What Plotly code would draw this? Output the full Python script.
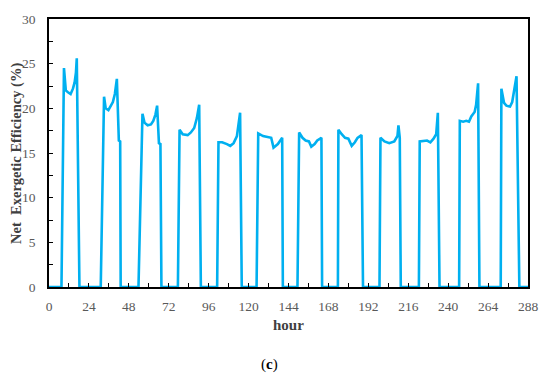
import plotly.graph_objects as go

# Hours (x) and net exergetic efficiency (%) for each of the 12 days
hours_by_day = [
    [7.5, 9.0, 10.1, 11.4, 13.0, 14.4, 15.4, 16.2, 16.7, 18.3],
    [31.1, 33.1, 34.1, 35.7, 37.1, 38.4, 39.6, 40.8, 42.0, 42.8, 43.1],
    [53.8, 56.2, 57.4, 59.3, 61.3, 62.7, 64.0, 65.0, 66.1, 67.0, 67.6],
    [77.5, 78.5, 80.4, 83.4, 85.3, 87.3, 88.9, 90.3, 91.3],
    [101.1, 101.9, 104.1, 107.0, 109.0, 111.0, 113.0, 114.9, 115.9],
    [124.8, 125.8, 128.7, 130.7, 133.6, 135.0, 137.6, 140.2, 140.6],
    [149.4, 150.4, 152.4, 154.3, 156.3, 157.7, 159.7, 161.3, 163.8, 164.2],
    [173.7, 174.0, 176.0, 178.0, 180.0, 182.0, 183.9, 185.5, 187.9, 188.8],
    [198.7, 199.3, 201.7, 204.6, 207.6, 209.5, 210.1, 210.9, 211.5],
    [222.4, 222.9, 225.3, 227.3, 229.3, 231.2, 232.8, 233.8, 234.8],
    [246.6, 247.0, 249.0, 250.9, 252.5, 253.9, 255.9, 256.8, 258.0, 258.8],
    [271.6, 272.0, 273.6, 275.0, 277.2, 278.5, 279.9, 281.1, 282.8],
]
eff_by_day = [
    [0, 24.5, 22.0, 21.8, 21.6, 22.2, 22.9, 24.0, 25.6, 0],
    [0, 21.3, 20.0, 19.8, 20.2, 20.7, 21.6, 23.3, 16.4, 16.3, 0],
    [0, 19.4, 18.4, 18.1, 18.2, 18.6, 19.3, 20.3, 16.1, 16.0, 0],
    [0, 17.6, 17.1, 17.0, 17.3, 17.8, 18.9, 20.4, 0],
    [0, 16.2, 16.2, 16.0, 15.8, 16.1, 16.9, 19.5, 0],
    [0, 17.2, 16.9, 16.8, 16.7, 15.6, 16.0, 16.7, 0],
    [0, 17.3, 16.7, 16.4, 16.3, 15.7, 16.0, 16.4, 16.7, 0],
    [0, 17.6, 17.1, 16.7, 16.6, 15.8, 16.2, 16.7, 17.0, 0],
    [0, 16.7, 16.3, 16.1, 16.3, 16.9, 18.1, 16.7, 0],
    [0, 16.3, 16.4, 16.4, 16.2, 16.6, 17.1, 19.5, 0],
    [0, 18.6, 18.5, 18.6, 18.5, 19.1, 19.6, 20.4, 22.8, 0],
    [0, 22.2, 20.6, 20.3, 20.2, 20.7, 22.2, 23.6, 0],
]
x_ticks = list(range(0, 289, 24))
y_ticks = list(range(0, 31, 5))

x = [0]
y = [0]
for h, e in zip(hours_by_day, eff_by_day):
    x += h
    y += e
x.append(288)
y.append(0)

fig = go.Figure()
fig.add_trace(go.Scatter(x=x, y=y, mode="lines",
                         line=dict(color="#00B0F0", width=2.6),
                         hoverinfo="skip", showlegend=False))

serif = "Liberation Serif"
axis_common = dict(showline=True, linecolor="black", linewidth=1.5, mirror=True,
                   ticks="inside", ticklen=4, tickwidth=1, tickcolor="black",
                   showgrid=False, zeroline=False,
                   tickfont=dict(family=serif, size=13.5, color="#595959"))

fig.update_xaxes(range=[0, 288], tickvals=x_ticks, ticktext=[str(v) for v in x_ticks],
                 minor=dict(dtick=12, ticks="inside", ticklen=4, tickcolor="black", showgrid=False),
                 ticklabelstandoff=6, **axis_common)
fig.update_yaxes(range=[0, 30], tickvals=y_ticks, ticktext=[str(v) for v in y_ticks],
                 minor=dict(dtick=2.5, ticks="inside", ticklen=4, tickcolor="black", showgrid=False),
                 ticklabelstandoff=9, **axis_common)

fig.add_annotation(text="<b>Net  Exergetic Efficiency (%)</b>", xref="paper", yref="paper",
                   x=-0.069, y=0.5, textangle=-90, showarrow=False,
                   font=dict(family=serif, size=14.5, color="#404040"),
                   xanchor="center", yanchor="middle")
fig.add_annotation(text="<b>hour</b>", xref="paper", yref="paper",
                   x=0.5, y=-0.14, showarrow=False,
                   font=dict(family=serif, size=15, color="#404040"),
                   xanchor="center", yanchor="middle")
fig.add_annotation(text="(<b>c</b>)", xref="paper", yref="paper",
                   x=(272.7 - 49) / 487, y=-0.288, showarrow=False,
                   font=dict(family=serif, size=15, color="black"),
                   xanchor="center", yanchor="middle")

fig.update_layout(width=550, height=379, margin=dict(l=49, r=14, t=12, b=92),
                  paper_bgcolor="white", plot_bgcolor="white")
fig.write_html("out.html", config={"displayModeBar": False},
               post_script="document.body.style.margin='0px';")
